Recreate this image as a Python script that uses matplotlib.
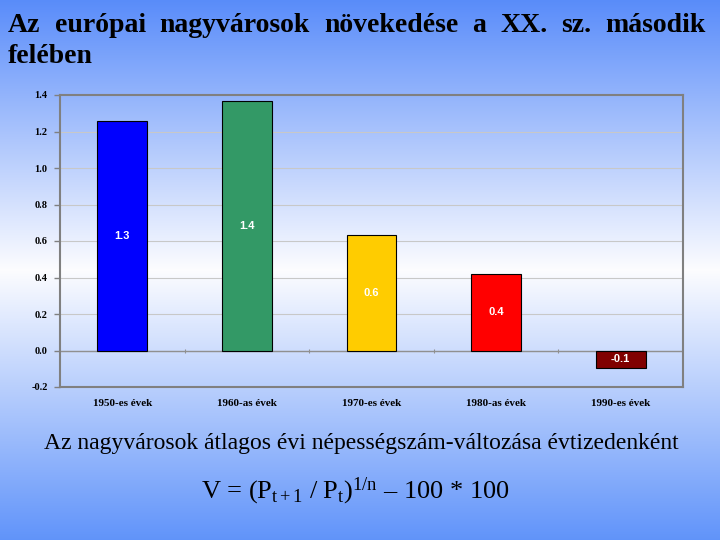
import numpy as np
import matplotlib
matplotlib.use("Agg")
import matplotlib.pyplot as plt

categories = ["1950-es évek", "1960-as évek", "1970-es évek", "1980-as évek", "1990-es évek"]
values = [1.26, 1.365, 0.635, 0.42, -0.095]
value_labels = ["1.3", "1.4", "0.6", "0.4", "-0.1"]
colors = ["#0000FF", "#339966", "#FFCC00", "#FF0000", "#800000"]
yticks = [-0.2, 0.0, 0.2, 0.4, 0.6, 0.8, 1.0, 1.2, 1.4]

title_line1 = "Az európai nagyvárosok növekedése a XX. sz. második"
title_line2 = "felében"
caption = "Az nagyvárosok átlagos évi népességszám-változása évtizedenként"
formula = r"V = (P$_{\mathrm{t+1}}$ / P$_{\mathrm{t}}$)$^{\mathrm{1/n}}$ – 100 * 100"

plt.rcParams["mathtext.fontset"] = "custom"
plt.rcParams["mathtext.rm"] = "Liberation Serif"
plt.rcParams["mathtext.it"] = "Liberation Serif:italic"

fig = plt.figure(figsize=(7.2, 5.4), dpi=100)

# background gradient: blue at top, white in middle, blue at bottom
bg = fig.add_axes([0, 0, 1, 1], zorder=-10)
h = 540
t = np.linspace(0, 1, h)
top = np.array([0.35, 0.55, 0.98])
white = np.array([0.99, 0.99, 1.0])
bot = np.array([0.38, 0.58, 0.98])
grad = np.zeros((h, 1, 3))
for i, v in enumerate(t):
    if v < 0.5:
        a = v / 0.5
        grad[i, 0] = top * (1 - a) + white * a
    else:
        a = (v - 0.5) / 0.5
        grad[i, 0] = white * (1 - a) + bot * a
bg.imshow(grad, aspect="auto", extent=[0, 1, 0, 1], origin="upper")
bg.set_axis_off()

ax = fig.add_axes([60 / 720, 1 - 387 / 540, 623 / 720, 292 / 540])
ax.patch.set_alpha(0)

x = np.arange(len(categories))
bars = ax.bar(x, values, width=0.4, color=colors, edgecolor="black", linewidth=0.8, zorder=3)

for xi, v, lab in zip(x, values, value_labels):
    ax.text(xi, v / 2, lab, ha="center", va="center", color="white",
            fontsize=8, fontweight="bold", family="Liberation Sans", zorder=4)

ax.set_xlim(-0.5, len(categories) - 0.5)
ax.set_ylim(-0.2, 1.4)
ax.set_yticks(yticks)
ax.set_yticklabels([f"{v:.1f}" for v in yticks], fontsize=7.5, fontweight="bold",
                   family="Liberation Serif")
ax.set_xticks(x)
ax.set_xticklabels(categories, fontsize=8, fontweight="bold", family="Liberation Serif")
ax.tick_params(axis="x", length=0, pad=9)
ax.tick_params(axis="y", length=4, width=1, color="#808080", pad=5)
ax.grid(axis="y", color="#c8c8c8", linewidth=0.8, zorder=0)
for s in ax.spines.values():
    s.set_color("#808080")
    s.set_linewidth(1.5)

# category axis at zero with tick marks between categories
ax.axhline(0, color="#909090", linewidth=1.0, zorder=2)
ax.vlines(x[:-1] + 0.5, -0.012, 0.006, color="#909090", linewidth=0.8, zorder=2)

# justified title
fig.canvas.draw()
renderer = fig.canvas.get_renderer()
words = title_line1.split(" ")
left_px, right_px = 8, 706
texts = []
widths = []
for w in words:
    tx = fig.text(0, 1 - 32 / 540, w, fontsize=20, fontweight="bold",
                  family="Liberation Serif", va="baseline", ha="left")
    texts.append(tx)
    widths.append(tx.get_window_extent(renderer).width)
gap = (right_px - left_px - sum(widths)) / (len(words) - 1)
pos = left_px
for tx, wd in zip(texts, widths):
    tx.set_x(pos / 720)
    pos += wd + gap
fig.text(8 / 720, 1 - 63 / 540, title_line2, fontsize=20, fontweight="bold",
         family="Liberation Serif", va="baseline", ha="left")

fig.text(361 / 720, 1 - 449 / 540, caption, fontsize=17, family="Liberation Serif",
         va="baseline", ha="center")
fig.text(355 / 720, 1 - 498 / 540, formula, fontsize=19, family="Liberation Serif",
         va="baseline", ha="center")

fig.savefig("out.png", dpi=100)
